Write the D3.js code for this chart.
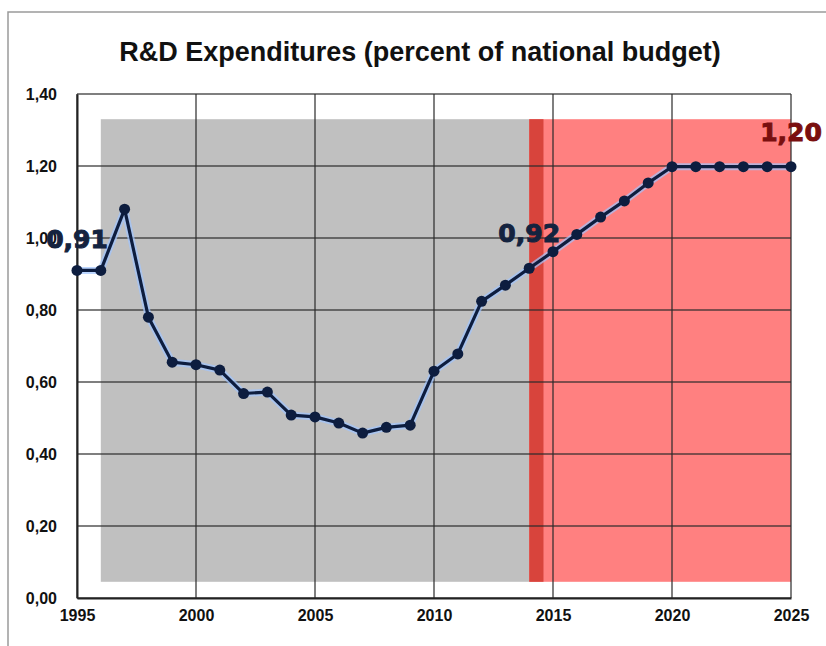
<!DOCTYPE html>
<html><head><meta charset="utf-8">
<script src="https://cdn.jsdelivr.net/npm/d3@7"></script>
<style>body{margin:0;background:#fff}svg{display:block}</style>
</head><body>
<svg id="c" width="826" height="646"></svg>
<script>
const years = [1995,1996,1997,1998,1999,2000,2001,2002,2003,2004,2005,2006,2007,2008,2009,2010,2011,2012,2013,2014,2015,2016,2017,2018,2019,2020,2021,2022,2023,2024,2025];
const values = [0.91,0.91,1.08,0.78,0.655,0.648,0.633,0.568,0.572,0.508,0.503,0.486,0.458,0.474,0.48,0.63,0.678,0.824,0.869,0.916,0.962,1.01,1.058,1.103,1.153,1.198,1.198,1.198,1.198,1.198,1.198];
const xTicks = [1995,2000,2005,2010,2015,2020,2025];
const yTicks = [0,0.2,0.4,0.6,0.8,1.0,1.2,1.4];
const bands = [
  {x0:1996, x1:2014, y0:0.045, y1:1.33, color:"#c0c0c0"},
  {x0:2014, x1:2025, y0:0.045, y1:1.33, color:"#ff8080"},
  {x0:2014, x1:2014.6, y0:0.045, y1:1.33, color:"#d8443c"}
];
const labels = [
  {year:1995, value:0.91, text:"0,91", color:"#14233f", dx:0, dy:-22},
  {year:2014, value:0.92, text:"0,92", color:"#14233f", dx:0, dy:-25},
  {year:2025, value:1.20, text:"1,20", color:"#7a0f0f", dx:0, dy:-25}
];
const title = "R&D Expenditures (percent of national budget)";

const svg = d3.select("#c");
const x = d3.scaleLinear().domain([1995,2025]).range([77,791]);
const y = d3.scaleLinear().domain([0,1.4]).range([598,94]);
const fmt = d => d3.format(".2f")(d).replace(".", ",");

// outer frame
svg.append("path").attr("d","M8,646 L8,12 L826,12").attr("fill","none").attr("stroke","#9a9a9a").attr("stroke-width",1.5);

// title
svg.append("text").attr("x",420).attr("y",61).attr("text-anchor","middle")
  .attr("font-family","Liberation Sans, sans-serif").attr("font-weight","bold")
  .attr("font-size",27).attr("fill","#111").text(title);

// bands
svg.selectAll("rect.band").data(bands).join("rect").attr("class","band")
  .attr("x",d=>x(d.x0)).attr("width",d=>x(d.x1)-x(d.x0))
  .attr("y",d=>y(d.y1)).attr("height",d=>y(d.y0)-y(d.y1)).attr("fill",d=>d.color);

// grid
const g = svg.append("g");
g.selectAll("line.h").data(yTicks).join("line")
  .attr("x1",x(1995)).attr("x2",x(2025)).attr("y1",d=>y(d)).attr("y2",d=>y(d))
  .attr("stroke","#2a2a2a").attr("stroke-opacity",0.8).attr("stroke-width",1.5);
g.selectAll("line.v").data(xTicks).join("line")
  .attr("y1",y(0)).attr("y2",y(1.4)).attr("x1",d=>x(d)).attr("x2",d=>x(d))
  .attr("stroke","#2a2a2a").attr("stroke-opacity",0.8).attr("stroke-width",1.5);

// axes
const yAxis = svg.append("g").attr("transform",`translate(${x(1995)},0)`)
  .call(d3.axisLeft(y).tickValues(yTicks).tickFormat(fmt).tickSize(0).tickPadding(20));
const xAxis = svg.append("g").attr("transform",`translate(0,${y(0)})`)
  .call(d3.axisBottom(x).tickValues(xTicks).tickFormat(d3.format("d")).tickSize(0).tickPadding(12));
[yAxis,xAxis].forEach(a=>{
  a.select(".domain").attr("stroke","#222").attr("stroke-width",2);
  a.selectAll("text").attr("font-family","Liberation Sans, sans-serif")
    .attr("font-weight","bold").attr("font-size",16).attr("fill","#111");
});

// line with glow
const line = d3.line().x((d,i)=>x(years[i])).y(d=>y(d));
svg.append("path").datum(values).attr("d",line).attr("fill","none")
  .attr("stroke","#9fc4ff").attr("stroke-opacity",0.7).attr("stroke-width",7).attr("stroke-linejoin","round");
svg.append("path").datum(values).attr("d",line).attr("fill","none")
  .attr("stroke","#0d1d3f").attr("stroke-width",3.2).attr("stroke-linejoin","round");
svg.selectAll("circle.pt").data(values).join("circle")
  .attr("cx",(d,i)=>x(years[i])).attr("cy",d=>y(d)).attr("r",5.5).attr("fill","#0d1d3f");

// labels
svg.selectAll("text.lbl").data(labels).join("text")
  .attr("x",d=>x(d.year)+d.dx).attr("y",d=>y(d.value)+d.dy).attr("text-anchor","middle")
  .attr("font-family","DejaVu Sans, sans-serif").attr("font-weight","bold").attr("font-size",25)
  .attr("fill",d=>d.color).attr("stroke",d=>d.color).attr("stroke-width",1)
  .text(d=>d.text);
</script>
</body></html>
